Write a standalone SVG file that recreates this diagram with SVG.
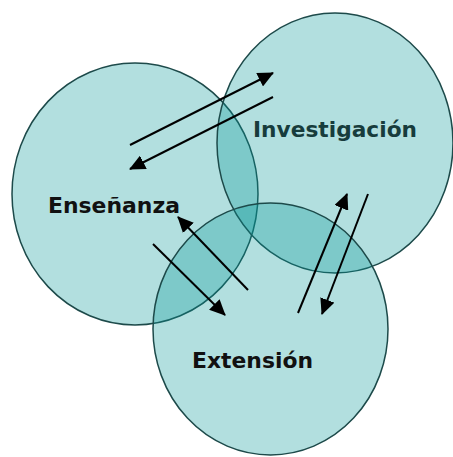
<svg xmlns="http://www.w3.org/2000/svg" width="453" height="457" viewBox="0 0 453 457">
<style>
.c{fill:rgb(7,152,152);fill-opacity:0.31;stroke:#1d4a4a;stroke-width:1.5}
.t{font-family:"DejaVu Sans","Liberation Sans",sans-serif;font-weight:bold;font-size:22px}
.a{stroke:#000;stroke-width:2;fill:none;marker-end:url(#ah)}
</style>
<defs>
<marker id="ah" viewBox="0 0 16 15" refX="15" refY="7.5" markerWidth="16" markerHeight="15" markerUnits="userSpaceOnUse" orient="auto">
<path d="M0,0 L16,7.5 L0,15 z" fill="#000"/>
</marker>
</defs>
<rect width="453" height="457" fill="#fff"/>
<g id="ensenanza">
<ellipse class="c" cx="135" cy="194" rx="123" ry="131"/>
<text class="t" x="48" y="213" fill="#111" textLength="132" lengthAdjust="spacingAndGlyphs">Enseñanza</text>
</g>
<g id="investigacion">
<ellipse class="c" cx="335" cy="143" rx="118" ry="130"/>
<text class="t" x="253" y="137" fill="#173c3c" textLength="164" lengthAdjust="spacingAndGlyphs">Investigación</text>
</g>
<g id="extension">
<ellipse class="c" cx="270.5" cy="329" rx="117.5" ry="126"/>
<text class="t" x="192" y="368" fill="#111" textLength="121" lengthAdjust="spacingAndGlyphs">Extensión</text>
</g>
<g id="connectors">
<line class="a" x1="130" y1="145" x2="273" y2="73"/>
<line class="a" x1="273" y1="97" x2="130" y2="169"/>
<line class="a" x1="248" y1="290" x2="178" y2="217"/>
<line class="a" x1="153" y1="244" x2="225" y2="315"/>
<line class="a" x1="298" y1="313" x2="347" y2="194"/>
<line class="a" x1="368" y1="194" x2="322" y2="314"/>
</g>
</svg>
